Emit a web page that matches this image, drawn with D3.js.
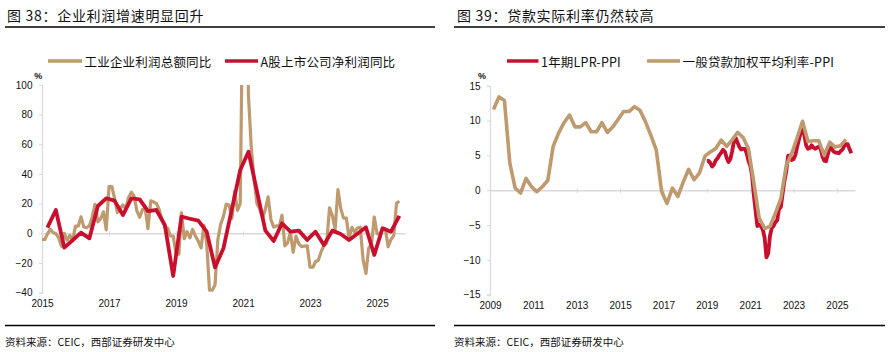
<!DOCTYPE html>
<html><head><meta charset="utf-8">
<script src="https://cdn.jsdelivr.net/npm/d3@7"></script>
<style>
html,body{margin:0;padding:0;background:#fff;}
svg{display:block;}
</style></head><body>
<svg id="c" width="894" height="352"></svg>
<script>
// ---------- text ----------
const leftTitle = "图 38：企业利润增速明显回升";
const rightTitle = "图 39：贷款实际利率仍然较高";
const sourceText = "资料来源：CEIC，西部证券研发中心";
const leftNames = ["工业企业利润总额同比", "A股上市公司净利润同比"];
const rightNames = ["1年期LPR-PPI", "一般贷款加权平均利率-PPI"];
const unitLabel = "%";

// ---------- left chart data ----------
// 工业企业利润总额同比, monthly from 2015-01 (Jan shown = Jan-Feb)
const industrialStart = [2015, 1];
const industrialProfitYoY = [
  -4.2,-4.2,-0.4,2.6,0.6,-0.3,-2.9,-8.8,-0.1,-4.6,-1.4,-4.7,
  4.8,4.8,11.1,4.2,3.7,5.1,11.0,19.5,7.7,9.8,14.5,2.3,
  31.5,31.5,23.8,14.0,16.7,19.1,16.5,24.0,27.7,25.1,14.9,10.8,
  16.1,16.1,3.1,21.9,21.1,20.0,16.2,9.2,4.1,3.6,-1.8,-1.9,
  -14.0,-14.0,13.9,-3.7,1.1,-3.1,2.6,-2.0,-5.3,-9.9,5.4,-6.3,
  -38.3,-38.3,-34.9,-4.3,6.0,11.5,19.6,19.1,10.1,28.2,15.5,20.1,
  178.9,178.9,92.3,57.0,36.4,20.0,16.4,10.1,16.3,24.6,9.0,4.2,
  5.0,5.0,12.2,-8.5,-6.5,0.8,-12.8,-2.1,-7.1,-9.0,-8.6,-8.4,
  -22.9,-22.9,-19.2,-18.2,-12.6,-8.3,-6.7,17.2,11.9,2.7,29.5,16.8,
  10.2,10.2,-3.5,4.0,0.7,3.6,4.1,-17.8,-27.1,-10.0,-7.3,11.0,
  -0.3,-0.3,2.6,3.0,-9.1,-4.3,-1.5,20.4,21.6
];
// A股上市公司净利润同比, quarterly from 2015Q1
const aShareStart = [2015, 1];
const aShareProfitYoY = [
  3.8,15.7,-9.7,-4.7,
  0.4,-3.4,18.4,23.6,
  22.0,12.3,23.6,22.9,
  15.0,15.7,5.6,-28.8,
  11.2,9.8,8.5,1.1,
  -23.0,-10.1,16.3,42.7,
  55.0,28.4,1.8,-5.2,
  6.7,1.1,1.8,-4.5,
  1.1,-7.9,1.8,-0.5,
  -4.5,-0.3,4.0,-14.6,
  3.4,1.1,11.7
];
const leftYTicks = [-40,-20,0,20,40,60,80,100];
const leftXTicks = [2015,2017,2019,2021,2023,2025];

// ---------- right chart data ----------
// 1年期LPR-PPI, monthly from 2019-01
const lprStart = [2019, 1];
const lprMinusPPI = [
  4.2,4.2,3.9,3.4,3.7,4.3,4.6,5.05,5.4,5.8,5.55,4.65,
  4.05,4.45,5.55,6.95,7.55,6.85,6.25,5.85,5.95,5.95,5.35,4.25,
  3.55,2.15,-0.55,-2.95,-5.15,-4.95,-5.15,-5.65,-6.85,-9.65,-9.05,-6.5,
  -5.4,-5.1,-4.6,-4.3,-2.7,-2.4,-0.5,1.35,2.75,4.95,4.95,4.35,
  4.45,5.05,6.15,7.25,8.25,8.95,7.95,6.45,5.95,6.05,6.45,6.15,
  5.95,6.15,6.25,5.95,4.85,4.25,4.15,5.15,6.15,6.0,5.6,5.4,
  5.4,5.3,5.6,5.8,6.3,6.6,6.6,5.9,5.3
];
// 一般贷款加权平均利率-PPI, quarterly from 2009Q1
const loanStart = [2009, 1];
const loanRateMinusPPI = [
  11.6,13.4,12.9,3.9,
  0.3,-0.4,1.7,0.5,
  -0.2,0.5,1.4,6.3,
  8.2,9.7,10.8,9.1,
  9.1,9.7,8.4,8.4,
  9.7,8.3,9.1,10.2,
  11.3,11.3,12.0,11.5,
  9.9,7.9,5.8,-0.2,
  -1.9,0.3,-0.9,1.2,
  3.0,1.5,2.5,4.9,
  5.5,6.0,7.2,6.3,
  7.2,8.3,7.6,6.0,
  1.2,-4.0,-5.5,-5.2,
  -3.3,-1.2,3.6,5.3,
  7.5,9.9,7.0,7.1,
  7.1,5.0,6.9,6.2,
  6.4,7.3
];
const rightYTicks = [-15,-10,-5,0,5,10,15];
const rightXTicks = [2009,2011,2013,2015,2017,2019,2021,2023,2025];

// ---------- helpers ----------
const GOLD = "#BE9A6E", RED = "#C8102E", GRID = "#D9D9D9";
const monthly = (start, vals) => vals.map((v,i) => ({d: new Date(start[0], start[1]-1+i, 1), v}));
const quarterly = (start, vals) => vals.map((v,i) => ({d: new Date(start[0], (start[1]-1)*3 + 2 + i*3, 1), v}));

const svg = d3.select("#c");
const FONT_LAT = "'Liberation Sans', Arial, sans-serif";
const FONT_CJK = "'Noto Sans CJK SC', 'Noto Sans', sans-serif";

function panel(cfg) {
  const g = svg.append("g");
  // title
  g.append("text").attr("x", cfg.titleX).attr("y", 14.5)
    .attr("dominant-baseline", "central")
    .attr("font-family", FONT_CJK).attr("font-size", 14).attr("letter-spacing", 0.7).attr("fill", "#111")
    .text(cfg.title);
  g.append("line").attr("x1", cfg.ruleX[0]).attr("x2", cfg.ruleX[1])
    .attr("y1", 27).attr("y2", 27).attr("stroke", "#000").attr("stroke-width", 1.6);
  // bottom rule + source
  g.append("line").attr("x1", cfg.ruleX[0]).attr("x2", cfg.ruleX[1])
    .attr("y1", 325.5).attr("y2", 325.5).attr("stroke", "#000").attr("stroke-width", 1.6);
  g.append("text").attr("x", cfg.ruleX[0]).attr("y", 341)
    .attr("dominant-baseline", "central")
    .attr("font-family", FONT_CJK).attr("font-size", 10.5).attr("fill", "#111")
    .text(sourceText);

  const x = d3.scaleTime().domain(cfg.xDomain).range(cfg.xRange);
  const y = d3.scaleLinear().domain(cfg.yDomain).range(cfg.yRange);

  // y axis
  const ya = g.append("g").attr("transform", `translate(${cfg.xRange[0]},0)`)
    .call(d3.axisLeft(y).tickValues(cfg.yTicks).tickSize(3).tickPadding(6.5).tickFormat(d3.format("d")));
  ya.select(".domain").attr("stroke", GRID).attr("stroke-width", 1.2);
  ya.selectAll(".tick line").attr("stroke", GRID);
  ya.selectAll("text").attr("font-family", FONT_LAT).attr("font-size", 10).attr("fill", "#111");

  // zero line with ticks
  const tickDates = cfg.xTicks.map(yr => new Date(yr, 0, 1));
  const za = g.append("g").attr("transform", `translate(0,${y(0)})`)
    .call(d3.axisBottom(x).tickValues(tickDates).tickSize(3).tickSizeOuter(0).tickFormat(""));
  za.select(".domain").attr("stroke", GRID).attr("stroke-width", 1.6);
  za.selectAll(".tick line").attr("stroke", GRID).attr("y1", -2).attr("y2", 3);

  // x labels
  const xa = g.append("g").attr("transform", `translate(0,${cfg.yRange[0]})`)
    .call(d3.axisBottom(x).tickValues(tickDates).tickSize(0).tickPadding(cfg.xLabelPad).tickFormat(d3.timeFormat("%Y")));
  xa.select(".domain").remove();
  xa.selectAll("text").attr("font-family", FONT_LAT).attr("font-size", 10).attr("fill", "#111");

  // % label
  g.append("text").attr("x", cfg.pctX).attr("y", 75.7).attr("text-anchor", "middle")
    .attr("dominant-baseline", "central")
    .attr("font-family", FONT_LAT).attr("font-size", 9).attr("font-weight", "bold").attr("fill", "#111")
    .text(unitLabel);

  // clip
  const cid = "clip" + cfg.id;
  svg.append("defs").append("clipPath").attr("id", cid).append("rect")
    .attr("x", cfg.xRange[0]).attr("y", cfg.yRange[1])
    .attr("width", cfg.xRange[1]-cfg.xRange[0]+10).attr("height", cfg.yRange[0]-cfg.yRange[1]);

  const line = d3.line().x(d => x(d.d)).y(d => y(d.v));
  const plot = g.append("g").attr("clip-path", `url(#${cid})`);
  cfg.series.forEach(s => {
    plot.append("path").datum(s.data).attr("d", line)
      .attr("fill", "none").attr("stroke", s.color).attr("stroke-width", s.width)
      .attr("stroke-linejoin", "round").attr("stroke-linecap", "butt");
  });

  // legend
  cfg.legend.forEach(l => {
    g.append("line").attr("x1", l.x1).attr("x2", l.x2).attr("y1", 61).attr("y2", 61)
      .attr("stroke", l.color).attr("stroke-width", 3.5);
    g.append("text").attr("x", l.x2 + 2.5).attr("y", 61).attr("dominant-baseline", "central")
      .attr("font-family", FONT_CJK).attr("font-size", 12.5).attr("letter-spacing", 0.2).attr("fill", "#111").text(l.name);
  });
}

panel({
  id: "L", title: leftTitle, titleX: 7, ruleX: [5, 435],
  xDomain: [new Date(2015,0,1), new Date(2025,10,1)], xRange: [42, 405],
  yDomain: [-40, 100], yRange: [292.6, 85],
  yTicks: leftYTicks, xTicks: leftXTicks, xLabelPad: 7.3, pctX: 38.3,
  series: [
    {data: monthly(industrialStart, industrialProfitYoY), color: GOLD, width: 3.2},
    {data: quarterly(aShareStart, aShareProfitYoY), color: RED, width: 3.8}
  ],
  legend: [
    {x1: 48, x2: 82, color: GOLD, name: leftNames[0]},
    {x1: 225, x2: 258, color: RED, name: leftNames[1]}
  ]
});

panel({
  id: "R", title: rightTitle, titleX: 457, ruleX: [454, 885],
  xDomain: [new Date(2009,0,1), new Date(2025,10,1)], xRange: [490, 855],
  yDomain: [-15, 15], yRange: [294.6, 85.8],
  yTicks: rightYTicks, xTicks: rightXTicks, xLabelPad: 7.5, pctX: 482,
  series: [
    {data: monthly(lprStart, lprMinusPPI), color: RED, width: 3.8},
    {data: quarterly(loanStart, loanRateMinusPPI), color: GOLD, width: 3.6}
  ],
  legend: [
    {x1: 507, x2: 538.5, color: RED, name: rightNames[0]},
    {x1: 647, x2: 680, color: GOLD, name: rightNames[1]}
  ]
});
</script>
</body></html>
